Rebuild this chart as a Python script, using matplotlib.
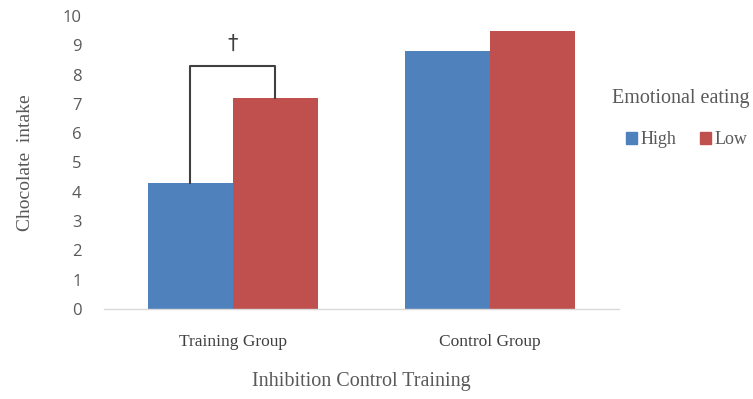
import matplotlib
matplotlib.use("Agg")
import matplotlib.pyplot as plt
import numpy as np
from matplotlib.patches import Patch

categories = ["Training Group", "Control Group"]
high = [4.3, 8.8]
low = [7.2, 9.5]
series_names = ["High", "Low"]
yticks = list(range(0, 11))
bracket_y = 8.3
sig_mark = "\u2020"

fig = plt.figure(figsize=(7.53, 3.99), dpi=100)
ax = fig.add_axes([0.138, 0.2256, 0.684, 0.7344])

x = np.arange(len(categories))
w = 0.33
c_high = "#4F81BD"
c_low = "#C0504D"
ax.bar(x - w / 2, high, width=w, color=c_high, label=series_names[0])
ax.bar(x + w / 2, low, width=w, color=c_low, label=series_names[1])

ax.set_xlim(-0.5, 1.5)
ax.set_ylim(0, 10)
ax.set_yticks(yticks)
ax.set_yticklabels([str(t) for t in yticks], fontfamily="Open Sans", fontsize=12, color="#595959")
ax.set_xticks(x)
ax.set_xticklabels(categories, fontfamily="Liberation Serif", fontsize=12.5, color="#404040")
ax.tick_params(axis="both", length=0)
ax.tick_params(axis="x", pad=18)
ax.tick_params(axis="y", pad=16)
for s in ["top", "right", "left"]:
    ax.spines[s].set_visible(False)
ax.spines["bottom"].set_color("#D9D9D9")
ax.spines["bottom"].set_linewidth(1.0)

# significance bracket
x0 = x[0] - w / 2
x1 = x[0] + w / 2
ax.plot([x0, x0, x1, x1], [high[0], bracket_y, bracket_y, low[0]], color="#404040", lw=1.5)
ax.text(x[0], 8.72, sig_mark, ha="center", va="bottom", fontsize=15, color="#404040",
        fontfamily="DejaVu Sans")

ax.set_ylabel("Chocolate  intake", fontfamily="Liberation Serif", fontsize=14, color="#595959", labelpad=21)
ax.set_xlabel("Inhibition Control Training", fontfamily="Liberation Serif", fontsize=14.5, color="#595959", labelpad=16)

fig.text(612 / 753, 1 - 98 / 399, "Emotional eating", ha="left", va="center",
         fontfamily="Liberation Serif", fontsize=14.5, color="#595959")

handles = [Patch(color=c_high), Patch(color=c_low)]
leg = fig.legend(handles, series_names, loc="center left", bbox_to_anchor=(626 / 753, 1 - 140 / 399), ncol=2,
                 frameon=False, handlelength=0.6, handleheight=0.6, handletextpad=0.2,
                 columnspacing=1.3, borderpad=0, borderaxespad=0,
                 prop={"family": "Liberation Serif", "size": 13})
for t in leg.get_texts():
    t.set_color("#595959")

fig.savefig("out.png", dpi=100)
